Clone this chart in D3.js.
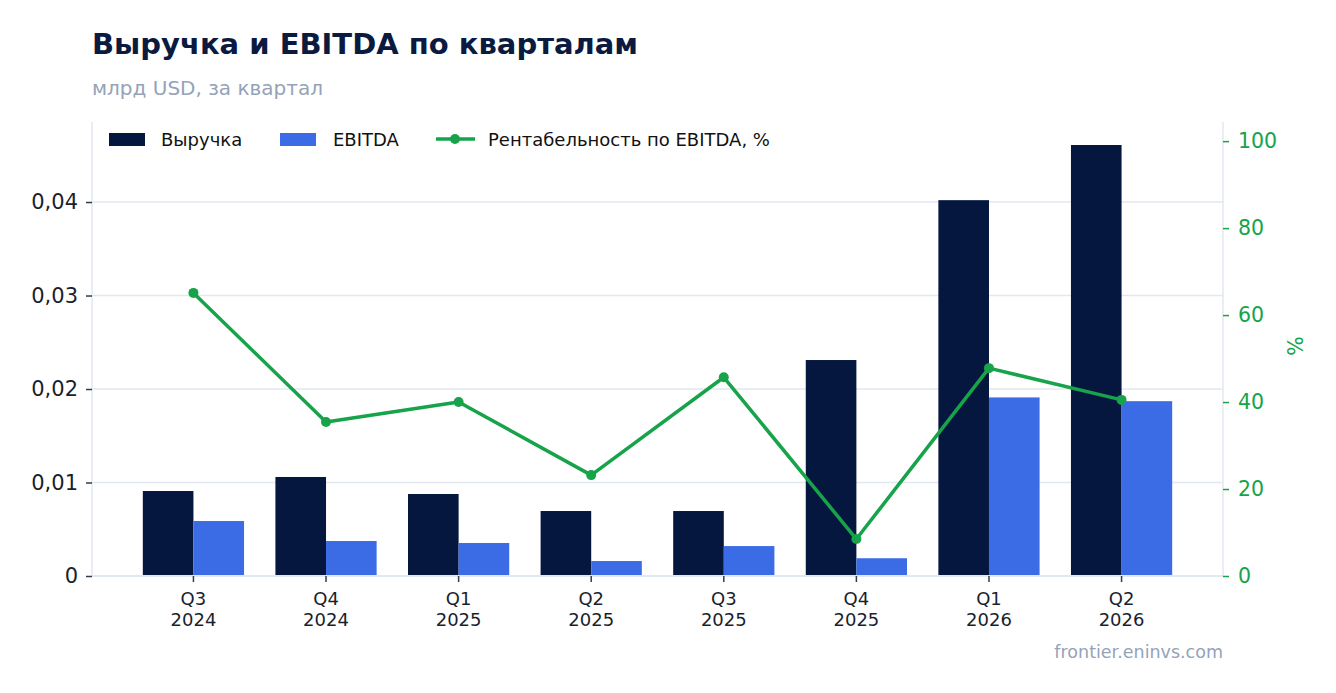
<!DOCTYPE html>
<html lang="ru">
<head>
<meta charset="UTF-8">
<title>Выручка и EBITDA по кварталам</title>
<script src="https://d3js.org/d3.v7.min.js"></script>
<style>
  body { margin: 0; background: #fff; }
  svg { font-family: "DejaVu Sans", sans-serif; }
</style>
</head>
<body>
<div id="chart"></div>
<script>
// data
const quarters = ["Q3 2024", "Q4 2024", "Q1 2025", "Q2 2025", "Q3 2025", "Q4 2025", "Q1 2026", "Q2 2026"];
const revenue = [0.00909, 0.01059, 0.00877, 0.00695, 0.00695, 0.0231, 0.0402, 0.0461];
const ebitda = [0.00588, 0.00374, 0.00353, 0.0016, 0.0032, 0.0019, 0.0191, 0.0187];
const margin = [65.1, 35.4, 40.0, 23.2, 45.7, 8.5, 47.8, 40.5];
const leftTicks = [0, 0.01, 0.02, 0.03, 0.04];
const rightTicks = [0, 20, 40, 60, 80, 100];

const W = 1336, H = 693;
const m = {top: 122, right: 113, bottom: 117, left: 92};
const iw = W - m.left - m.right, ih = H - m.top - m.bottom;

const navy = "#05163f", blue = "#3b6ce6", green = "#16a34a", grid = "#e2e8f0";

const svg = d3.select("#chart").append("svg").attr("width", W).attr("height", H);

svg.append("text").attr("x", 92).attr("y", 54)
   .attr("font-size", 29).attr("font-weight", "bold").attr("fill", "#0b1a3f")
   .text("Выручка и EBITDA по кварталам");
svg.append("text").attr("x", 92).attr("y", 95)
   .attr("font-size", 20).attr("fill", "#94a3b8")
   .text("млрд USD, за квартал");

const g = svg.append("g").attr("transform", `translate(${m.left},${m.top})`);

const x = d3.scaleBand().domain(quarters).range([0, iw]).paddingInner(0).paddingOuter(0.265);
const sub = d3.scaleBand().domain(["rev", "ebitda"]).range([0, x.bandwidth()]).paddingOuter(0.31).paddingInner(0);
const y = d3.scaleLinear().domain([0, 0.04856]).range([ih, 0]);
const y2 = d3.scaleLinear().domain([0, 104.4]).range([ih, 0]);

// grid
g.append("g").selectAll("line").data(leftTicks.slice(1)).join("line")
  .attr("x1", 0).attr("x2", iw).attr("y1", d => y(d)).attr("y2", d => y(d))
  .attr("stroke", grid).attr("stroke-width", 1.5);

// bars
const grp = g.append("g").selectAll("g").data(quarters).join("g")
  .attr("transform", d => `translate(${x(d)},0)`);
grp.append("rect").attr("x", sub("rev")).attr("width", sub.bandwidth())
  .attr("y", (d, i) => y(revenue[i])).attr("height", (d, i) => ih - y(revenue[i]))
  .attr("fill", navy);
grp.append("rect").attr("x", sub("ebitda")).attr("width", sub.bandwidth())
  .attr("y", (d, i) => y(ebitda[i])).attr("height", (d, i) => ih - y(ebitda[i]))
  .attr("fill", blue);

// spines
g.append("line").attr("x1", 0).attr("x2", 0).attr("y1", 0).attr("y2", ih).attr("stroke", grid).attr("stroke-width", 1.5);
g.append("line").attr("x1", iw).attr("x2", iw).attr("y1", 0).attr("y2", ih).attr("stroke", grid).attr("stroke-width", 1.5);
g.append("line").attr("x1", 0).attr("x2", iw).attr("y1", ih).attr("y2", ih).attr("stroke", grid).attr("stroke-width", 2);

// left axis
const yAxis = g.append("g").call(d3.axisLeft(y).tickValues(leftTicks).tickSize(6).tickPadding(8)
  .tickFormat(d => d === 0 ? "0" : d3.format(".2f")(d).replace(".", ",")));
yAxis.select(".domain").remove();
yAxis.selectAll("line").attr("stroke", "#333a48").attr("stroke-width", 1.5);
yAxis.selectAll("text").attr("font-size", 21).attr("fill", "#1a1f2e").attr("font-family", "DejaVu Sans");

// right axis
const y2Axis = g.append("g").attr("transform", `translate(${iw},0)`)
  .call(d3.axisRight(y2).tickValues(rightTicks).tickSize(6).tickPadding(9));
y2Axis.select(".domain").remove();
y2Axis.selectAll("line").attr("stroke", green).attr("stroke-width", 1.5);
y2Axis.selectAll("text").attr("font-size", 20.5).attr("fill", green).attr("font-family", "DejaVu Sans");
g.append("text").attr("transform", `translate(${iw + 80},${ih / 2 - 3}) rotate(-90)`)
  .attr("text-anchor", "middle").attr("font-size", 20.5).attr("fill", green).text("%");

// bottom axis
const xAxis = g.append("g").attr("transform", `translate(0,${ih})`)
  .call(d3.axisBottom(x).tickSize(6).tickPadding(6).tickFormat(""));
xAxis.select(".domain").remove();
xAxis.selectAll("line").attr("stroke", "#333a48").attr("stroke-width", 1.5);
xAxis.selectAll(".tick").append("text").attr("text-anchor", "middle")
  .attr("font-size", 18).attr("fill", "#1a1f2e").attr("font-family", "DejaVu Sans")
  .selectAll("tspan").data(d => d.split(" ")).join("tspan")
  .attr("x", 0).attr("y", (d, i) => 29 + i * 21).text(d => d);

// margin line
const line = d3.line().x((d, i) => x(quarters[i]) + x.bandwidth() / 2).y(d => y2(d));
g.append("path").datum(margin).attr("d", line).attr("fill", "none")
  .attr("stroke", green).attr("stroke-width", 3.5).attr("stroke-linejoin", "round");
g.append("g").selectAll("circle").data(margin).join("circle")
  .attr("cx", (d, i) => x(quarters[i]) + x.bandwidth() / 2).attr("cy", d => y2(d))
  .attr("r", 5).attr("fill", green);

// legend
const lg = svg.append("g").attr("transform", "translate(109,139)");
lg.append("rect").attr("x", 0).attr("y", -6).attr("width", 36).attr("height", 13).attr("fill", navy);
lg.append("text").attr("x", 52).attr("y", 6.5).attr("font-size", 18).attr("fill", "#111").text("Выручка");
lg.append("rect").attr("x", 171).attr("y", -6).attr("width", 36).attr("height", 13).attr("fill", blue);
lg.append("text").attr("x", 224).attr("y", 6.5).attr("font-size", 18).attr("fill", "#111").text("EBITDA");
lg.append("line").attr("x1", 327).attr("x2", 366).attr("y1", 0).attr("y2", 0).attr("stroke", green).attr("stroke-width", 3.5);
lg.append("circle").attr("cx", 346).attr("cy", 0).attr("r", 5).attr("fill", green);
lg.append("text").attr("x", 379).attr("y", 6.5).attr("font-size", 18).attr("fill", "#111").text("Рентабельность по EBITDA, %");

// watermark
svg.append("text").attr("x", 1223).attr("y", 658).attr("text-anchor", "end")
  .attr("font-size", 17.5).attr("fill", "#94a3b8").text("frontier.eninvs.com");
</script>
</body>
</html>
